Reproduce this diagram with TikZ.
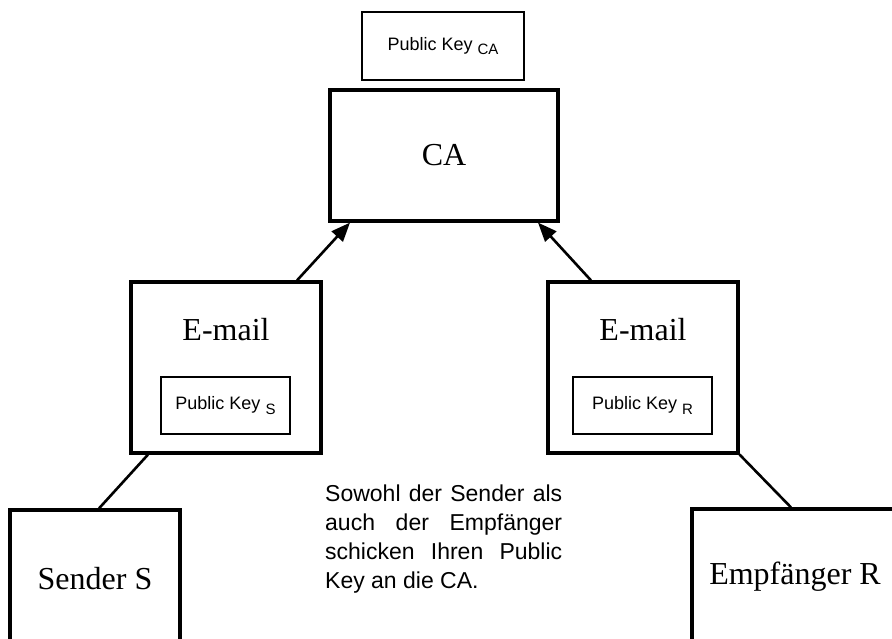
\documentclass[tikz,border=0pt]{standalone}
\usepackage{fontspec}
\setmainfont{Liberation Serif}
\newfontfamily\helv{Liberation Sans}
\usetikzlibrary{arrows.meta,positioning}

% small lowered index after "Public Key"
\newcommand{\keysub}[1]{\raisebox{-4.5pt}{\fontsize{15}{15}\selectfont #1}}

\tikzset{
  partybox/.style={draw,line width=3.2pt,rectangle,inner sep=0pt,
    font=\fontsize{32}{38}\selectfont},
  keybox/.style={draw,line width=1.2pt,rectangle,inner sep=0pt,
    font=\helv\fontsize{18}{22}\selectfont},
  sendline/.style={line width=2.6pt},
  sendarrow/.style={sendline,-{Triangle[length=19pt,width=15pt]}},
}

\begin{document}
\begin{tikzpicture}[x=1pt,y=-1pt]
\useasboundingbox (0,0) rectangle (892,639);
\clip (0,0) rectangle (892,639);

% certificate authority
\node[keybox,minimum width=162pt,minimum height=68pt] (pkca) at (443,46)
  {Public Key \keysub{CA}};
\node[partybox,minimum width=228pt,minimum height=131pt] (ca) at (444,155.5) {CA};

% the two mails with their keys
\node[partybox,minimum width=190pt,minimum height=171pt] (mailS) at (226,367.5) {};
\node[font=\fontsize{32}{38}\selectfont] (mailStxt) at (226,330) {E-mail};
\node[keybox,minimum width=129pt,minimum height=57pt] (pkS) at (225.5,405.5)
  {Public Key \keysub{S}};

\node[partybox,minimum width=190pt,minimum height=171pt] (mailR) at (643,367.5) {};
\node[font=\fontsize{32}{38}\selectfont] (mailRtxt) at (643,330) {E-mail};
\node[keybox,minimum width=139pt,minimum height=57pt] (pkR) at (642.5,405.5)
  {Public Key \keysub{R}};

% sender and receiver
\node[partybox,minimum width=170pt,minimum height=138pt] (sender) at (95,579) {Sender S};
\node[partybox,minimum width=206pt,minimum height=136pt] (empf) at (795,577) {Empfänger R};

\draw[sendarrow] ([xshift=71pt]mailS.north) -- ([xshift=-94pt]ca.south);
\draw[sendarrow] ([xshift=-52pt]mailR.north) -- ([xshift=94pt]ca.south);
\draw[sendline] ([xshift=-78pt]mailS.south) -- ([xshift=4pt]sender.north);
\draw[sendline] (mailR.south east) -- ([xshift=-4pt]empf.north);

\node[anchor=north west,inner sep=0pt,text width=237pt,align=justify,
  font=\helv\fontsize{23}{29}\selectfont] (note) at (325,485)
  {Sowohl der Sender als\linebreak auch der Empfänger\linebreak
   schicken Ihren Public\linebreak Key an die CA.};
\end{tikzpicture}
\end{document}
